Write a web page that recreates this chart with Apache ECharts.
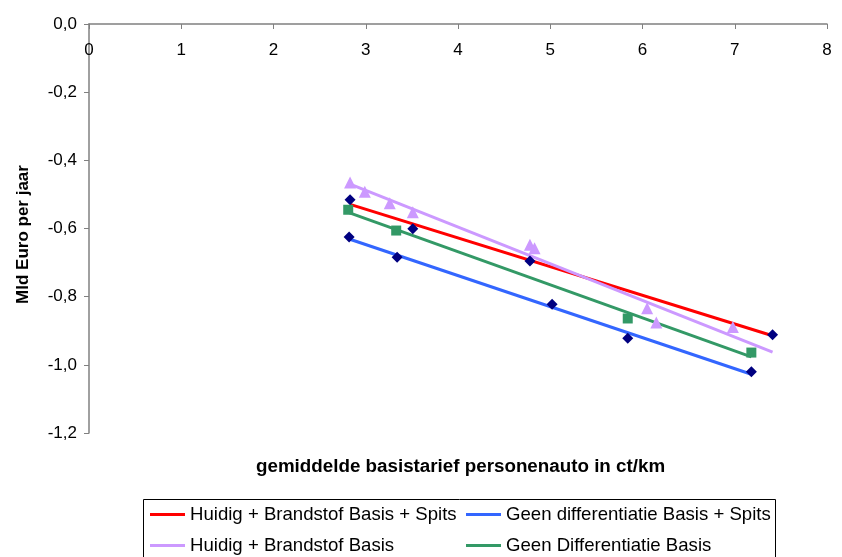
<!DOCTYPE html>
<html>
<head>
<meta charset="utf-8">
<script src="https://cdn.jsdelivr.net/npm/echarts@6/dist/echarts.min.js"></script>
<style>
  html, body { margin: 0; padding: 0; background: #fff; }
  #chart { width: 842px; height: 557px; }
</style>
</head>
<body>
<div id="chart"></div>
<script>
// scatter points: [x (ct/km), y (Mld Euro per jaar)]
const huidigSpits = [[2.83, -0.516], [3.51, -0.601], [4.78, -0.695], [7.41, -0.912]];
const geenSpits = [[2.82, -0.625], [3.34, -0.684], [5.02, -0.822], [5.84, -0.922], [7.18, -1.02]];
const huidigBasis = [[2.83, -0.465], [2.99, -0.492], [3.26, -0.526], [3.51, -0.552], [4.78, -0.648],
  [4.83, -0.658], [6.05, -0.834], [6.15, -0.876], [6.98, -0.889]];
const geenBasis = [[2.81, -0.545], [3.33, -0.606], [5.84, -0.864], [7.18, -0.964]];

// x range over which each trend line is drawn
const trendHuidigSpits = [2.83, 7.41];
const trendGeenSpits = [2.82, 7.18];
const trendHuidigBasis = [2.83, 7.41];
const trendGeenBasis = [2.81, 7.18];

const seriesNames = [
  "Huidig + Brandstof Basis + Spits",
  "Geen differentiatie Basis + Spits",
  "Huidig + Brandstof Basis",
  "Geen Differentiatie Basis"
];

// linear trend through the points, evaluated at the range ends
function trend(points, range) {
  const n = points.length;
  let sx = 0, sy = 0, sxx = 0, sxy = 0;
  points.forEach(function (p) {
    sx += p[0]; sy += p[1]; sxx += p[0] * p[0]; sxy += p[0] * p[1];
  });
  const b = (n * sxy - sx * sy) / (n * sxx - sx * sx);
  const a = (sy - b * sx) / n;
  return range.map(function (x) { return [x, a + b * x]; });
}

const chart = echarts.init(document.getElementById("chart"));
const font = "Liberation Sans, Arial, sans-serif";

function lineSeries(name, color, points, range) {
  return {
    name: name,
    type: "line",
    data: trend(points, range),
    symbol: "none",
    lineStyle: { color: color, width: 3 },
    itemStyle: { color: color },
    z: 2,
    silent: true
  };
}

function dotSeries(id, symbol, size, color, points) {
  return {
    name: id,
    type: "scatter",
    data: points,
    symbol: symbol,
    symbolSize: size,
    itemStyle: { color: color, opacity: 1 },
    z: 3,
    silent: true
  };
}

function legendColumn(names, left) {
  return {
    data: names,
    orient: "vertical",
    left: left,
    top: 505,
    icon: "rect",
    itemWidth: 35,
    itemHeight: 3,
    itemGap: 12,
    padding: 0,
    textStyle: { color: "#000", fontFamily: font, fontSize: 18.6, lineHeight: 18 }
  };
}

const option = {
  animation: false,
  backgroundColor: "#fff",
  grid: { left: 89, right: 15, top: 24, bottom: 124 },
  xAxis: {
    type: "value",
    position: "top",
    min: 0,
    max: 8,
    interval: 1,
    axisLine: { onZero: false, lineStyle: { color: "#808080", width: 1.5 } },
    axisTick: { inside: true, length: 5, lineStyle: { color: "#808080" } },
    axisLabel: { inside: true, margin: 18, color: "#000", fontFamily: font, fontSize: 17 },
    splitLine: { show: false }
  },
  yAxis: {
    type: "value",
    min: -1.2,
    max: 0,
    interval: 0.2,
    name: "Mld Euro per jaar",
    nameLocation: "middle",
    nameGap: 57,
    nameTextStyle: { color: "#000", fontFamily: font, fontSize: 17, fontWeight: "bold", padding: [0, 12, 0, 0] },
    axisLine: { onZero: false, lineStyle: { color: "#808080", width: 1.5 } },
    axisTick: { length: 5, lineStyle: { color: "#808080" } },
    axisLabel: {
      margin: 12,
      color: "#000",
      fontFamily: font,
      fontSize: 17,
      formatter: function (v) { return v.toFixed(1).replace(".", ","); }
    },
    splitLine: { show: false }
  },
  title: {
    text: "gemiddelde basistarief personenauto in ct/km",
    left: 256,
    top: 457,
    textStyle: { color: "#000", fontFamily: font, fontSize: 18.8, fontWeight: "bold" },
    padding: 0
  },
  legend: [
    legendColumn([seriesNames[0], seriesNames[2]], 150),
    legendColumn([seriesNames[1], seriesNames[3]], 466)
  ],
  graphic: [
    {
      type: "rect",
      shape: { x: 143.5, y: 499.5, width: 632, height: 80 },
      style: { fill: "none", stroke: "#000", lineWidth: 1 },
      silent: true
    }
  ],
  series: [
    lineSeries(seriesNames[0], "#ff0000", huidigSpits, trendHuidigSpits),
    lineSeries(seriesNames[1], "#3366ff", geenSpits, trendGeenSpits),
    lineSeries(seriesNames[2], "#cc99ff", huidigBasis, trendHuidigBasis),
    lineSeries(seriesNames[3], "#339966", geenBasis, trendGeenBasis),
    dotSeries("p1", "diamond", 11, "#000080", huidigSpits),
    dotSeries("p2", "diamond", 11, "#000080", geenSpits),
    dotSeries("p3", "triangle", 12, "#cc99ff", huidigBasis),
    dotSeries("p4", "rect", 10, "#339966", geenBasis)
  ]
};

chart.setOption(option);
window.addEventListener("resize", chart.resize);
</script>
</body>
</html>
